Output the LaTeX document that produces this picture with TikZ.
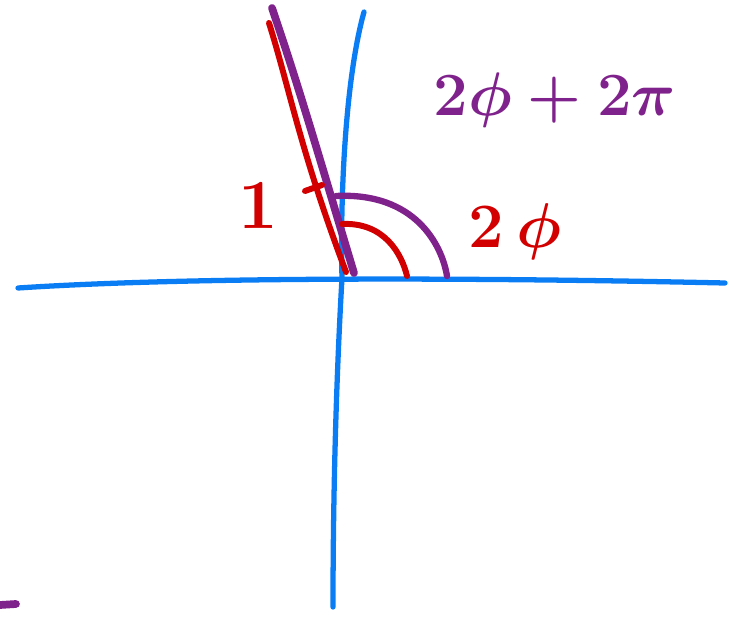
\RequirePackage{fix-cm}
\documentclass[tikz,border=0pt]{standalone}
\usepackage{amsmath}
\usepackage{tikz}
\usetikzlibrary{positioning}

\definecolor{penblue}{RGB}{10,125,245}
\definecolor{penred}{RGB}{210,0,0}
\definecolor{penpurple}{RGB}{128,34,140}

\begin{document}
\begin{tikzpicture}[
  x=0.02cm, y=-0.02cm,
  axis/.style={draw=penblue, line width=3pt, line cap=round},
  redpen/.style={draw=penred, line width=3.4pt, line cap=round},
  purplepen/.style={draw=penpurple, line width=4.4pt, line cap=round},
  redlab/.style={text=penred, font=\fontsize{36}{38}\selectfont\boldmath},
  purplelab/.style={text=penpurple, font=\fontsize{35}{37}\selectfont\boldmath}
]
\useasboundingbox (0,0) rectangle (738,618);

% ----- axes -----
\coordinate (xl) at (18,288);
\coordinate (xr) at (725,283);
\coordinate (yt) at (364,12);
\coordinate (yb) at (333,607);
\coordinate (o) at (342,278);

\draw[axis] (xl) .. controls (200,276) and (500,278) .. (xr);
\draw[axis] (yt) .. controls (345,80) and (340,200) .. (o)
                 .. controls (335,400) and (333,520) .. (yb);

% ----- unit vectors -----
\coordinate (rtop) at (269,23);
\coordinate (rend) at (346,272);
\coordinate (ptop) at (272,8);
\coordinate (pend) at (354,273);

\draw[redpen] (rtop) .. controls (290,90) and (300,150) .. (rend);
\draw[purplepen] (ptop) .. controls (300,90) and (320,160) .. (pend);
\draw[redpen] (305,191) -- (322,185);

% ----- angle arcs -----
\coordinate (ra) at (342,224);
\coordinate (rb) at (407,276);
\coordinate (pa) at (336,196);
\coordinate (pb) at (447,276);

\draw[redpen] (ra) .. controls (385,222) and (402,255) .. (rb);
\draw[purplepen, line width=3.6pt] (pa) .. controls (415,192) and (442,245) .. (pb);

% ----- labels -----
\node[redlab, font=\fontsize{40}{42}\selectfont\boldmath] (one) at (258,206) {$1$};
\node[redlab] (twophi) at (515,232) {$2\,\phi$};
\node[purplelab] (twophipi) at (555,100) {$2\phi+2\pi$};

% ----- stray mark -----
\draw[purplepen] (0,605) -- (16,604);

\end{tikzpicture}
\end{document}
